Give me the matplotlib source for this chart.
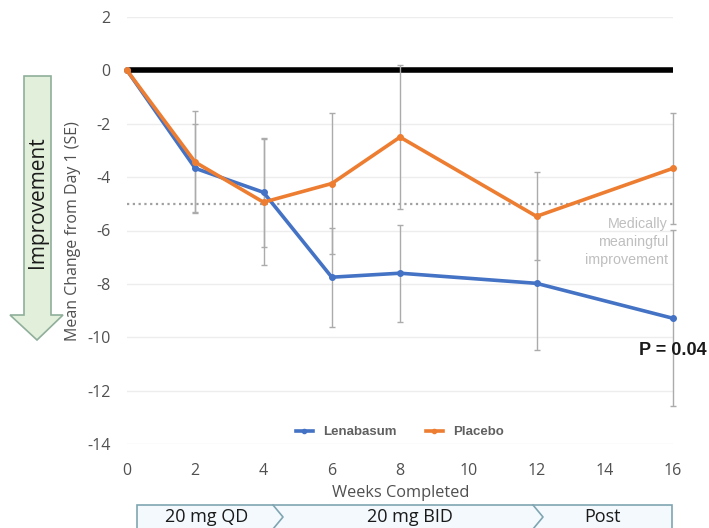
import matplotlib
matplotlib.use("Agg")
import matplotlib.pyplot as plt
from matplotlib.patches import Polygon, Rectangle
from matplotlib.lines import Line2D

# data
weeks = [0, 2, 4, 6, 8, 12, 16]
lenabasum = [0, -3.67, -4.57, -7.75, -7.6, -7.98, -9.29]
lenabasum_se = [0, 1.65, 2.05, 1.85, 1.82, 2.5, 3.3]
placebo = [0, -3.44, -4.94, -4.24, -2.5, -5.47, -3.67]
placebo_se = [0, 1.9, 2.35, 2.65, 2.7, 1.65, 2.07]
yticks = [2, 0, -2, -4, -6, -8, -10, -12, -14]
xticks = [0, 2, 4, 6, 8, 10, 12, 14, 16]
meaningful = -5
phases = ["20 mg QD", "20 mg BID", "Post"]

blue = "#4472C4"
orange = "#ED7D31"
tickcol = "#505050"
W, H = 709, 528

fig = plt.figure(figsize=(W / 100, H / 100), dpi=100)
ax = fig.add_axes([127 / W, 1 - 444 / H, 546 / W, 427 / H])


def fx(px):
    return px / W


def fy(py):
    return 1 - py / H


ax.set_xlim(0, 16)
ax.set_ylim(-14, 2)
for s in ax.spines.values():
    s.set_visible(False)
ax.set_yticks(yticks)
ax.set_yticklabels([str(v) for v in yticks])
ax.set_xticks(xticks)
ax.set_xticklabels([str(v) for v in xticks])
ax.tick_params(length=0, labelsize=11.5, labelcolor=tickcol, pad=12)
ax.tick_params(axis="x", pad=14)
for lab in ax.get_xticklabels() + ax.get_yticklabels():
    lab.set_fontfamily("Open Sans")
ax.grid(axis="y", color="#EDEDED", lw=1)
ax.set_axisbelow(True)

ax.axhline(0, color="black", lw=4, zorder=2)
ax.axhline(meaningful, color="#A0A0A0", lw=1.6, ls=(0, (1, 1.6)), zorder=2)

for vals, se in [(lenabasum, lenabasum_se), (placebo, placebo_se)]:
    eb = ax.errorbar(weeks, vals, yerr=se, fmt="none", ecolor="#ABABAB",
                     elinewidth=1, capsize=2, capthick=1, zorder=3)
    for art in eb.lines[1] + eb.lines[2]:
        art.set_clip_on(False)
ax.plot(weeks, lenabasum, color=blue, lw=2.6, marker="o", ms=4, zorder=4,
        label="Lenabasum", clip_on=False)
ax.plot(weeks, placebo, color=orange, lw=2.6, marker="o", ms=4, zorder=5,
        label="Placebo", clip_on=False)

handles = [Line2D([], [], color=blue, lw=2.6, marker="o", ms=3),
           Line2D([], [], color=orange, lw=2.6, marker="o", ms=3)]
leg = ax.legend(handles, ["Lenabasum", "Placebo"], loc="center", bbox_to_anchor=(0.5, 0.028),
                ncol=2, frameon=False, handlelength=1.3, columnspacing=2.2,
                prop={"family": "Liberation Sans", "size": 9.5, "weight": "bold"})
for t in leg.get_texts():
    t.set_color("#606060")

ax.text(15.85, -5.5, "Medically\nmeaningful\nimprovement", ha="right", va="top",
        fontsize=10.3, color="#BFBFBF", family="Liberation Sans", linespacing=1.35)
ax.text(16, -10.5, "P = 0.04", ha="center", va="center", fontsize=13,
        fontweight="bold", color="#1A1A1A", family="Liberation Sans")

fig.text(fx(73), fy(231), "Mean Change from Day 1 (SE)", rotation=90, ha="center",
         va="center", fontsize=11.5, color=tickcol, family="Open Sans")
fig.text(fx(401), fy(493), "Weeks Completed", ha="center", va="center",
         fontsize=11.8, color=tickcol, family="Open Sans")

# improvement arrow
arrow = [(24, 76), (51, 76), (51, 315), (63, 315), (37, 340), (10, 315), (24, 315)]
fig.patches.append(Polygon([(fx(x), fy(y)) for x, y in arrow], closed=True,
                           transform=fig.transFigure, facecolor="#E2EFDA",
                           edgecolor="#8FAF9A", lw=1.2))
fig.text(fx(38), fy(202), "Improvement", rotation=90, ha="center", va="center",
         fontsize=15, color="#1A1A1A", family="Open Sans")

# dosing phase banner
fig.patches.append(Rectangle((fx(137), fy(532)), fx(672) - fx(137), fy(505) - fy(532),
                             transform=fig.transFigure, facecolor="#F3F9FC",
                             edgecolor="#7FA5B2", lw=1.2))
for cx in [273, 533]:
    fig.lines.append(Line2D([fx(cx), fx(cx + 10), fx(cx)], [fy(505), fy(517), fy(529)],
                            transform=fig.transFigure, color="#7FA5B2", lw=1.2))
for label, cx in zip(phases, [207, 410, 603]):
    fig.text(fx(cx), fy(517), label, ha="center", va="center", fontsize=13,
             color="#1A1A1A", family="Open Sans")

fig.savefig("out.png", dpi=100)
